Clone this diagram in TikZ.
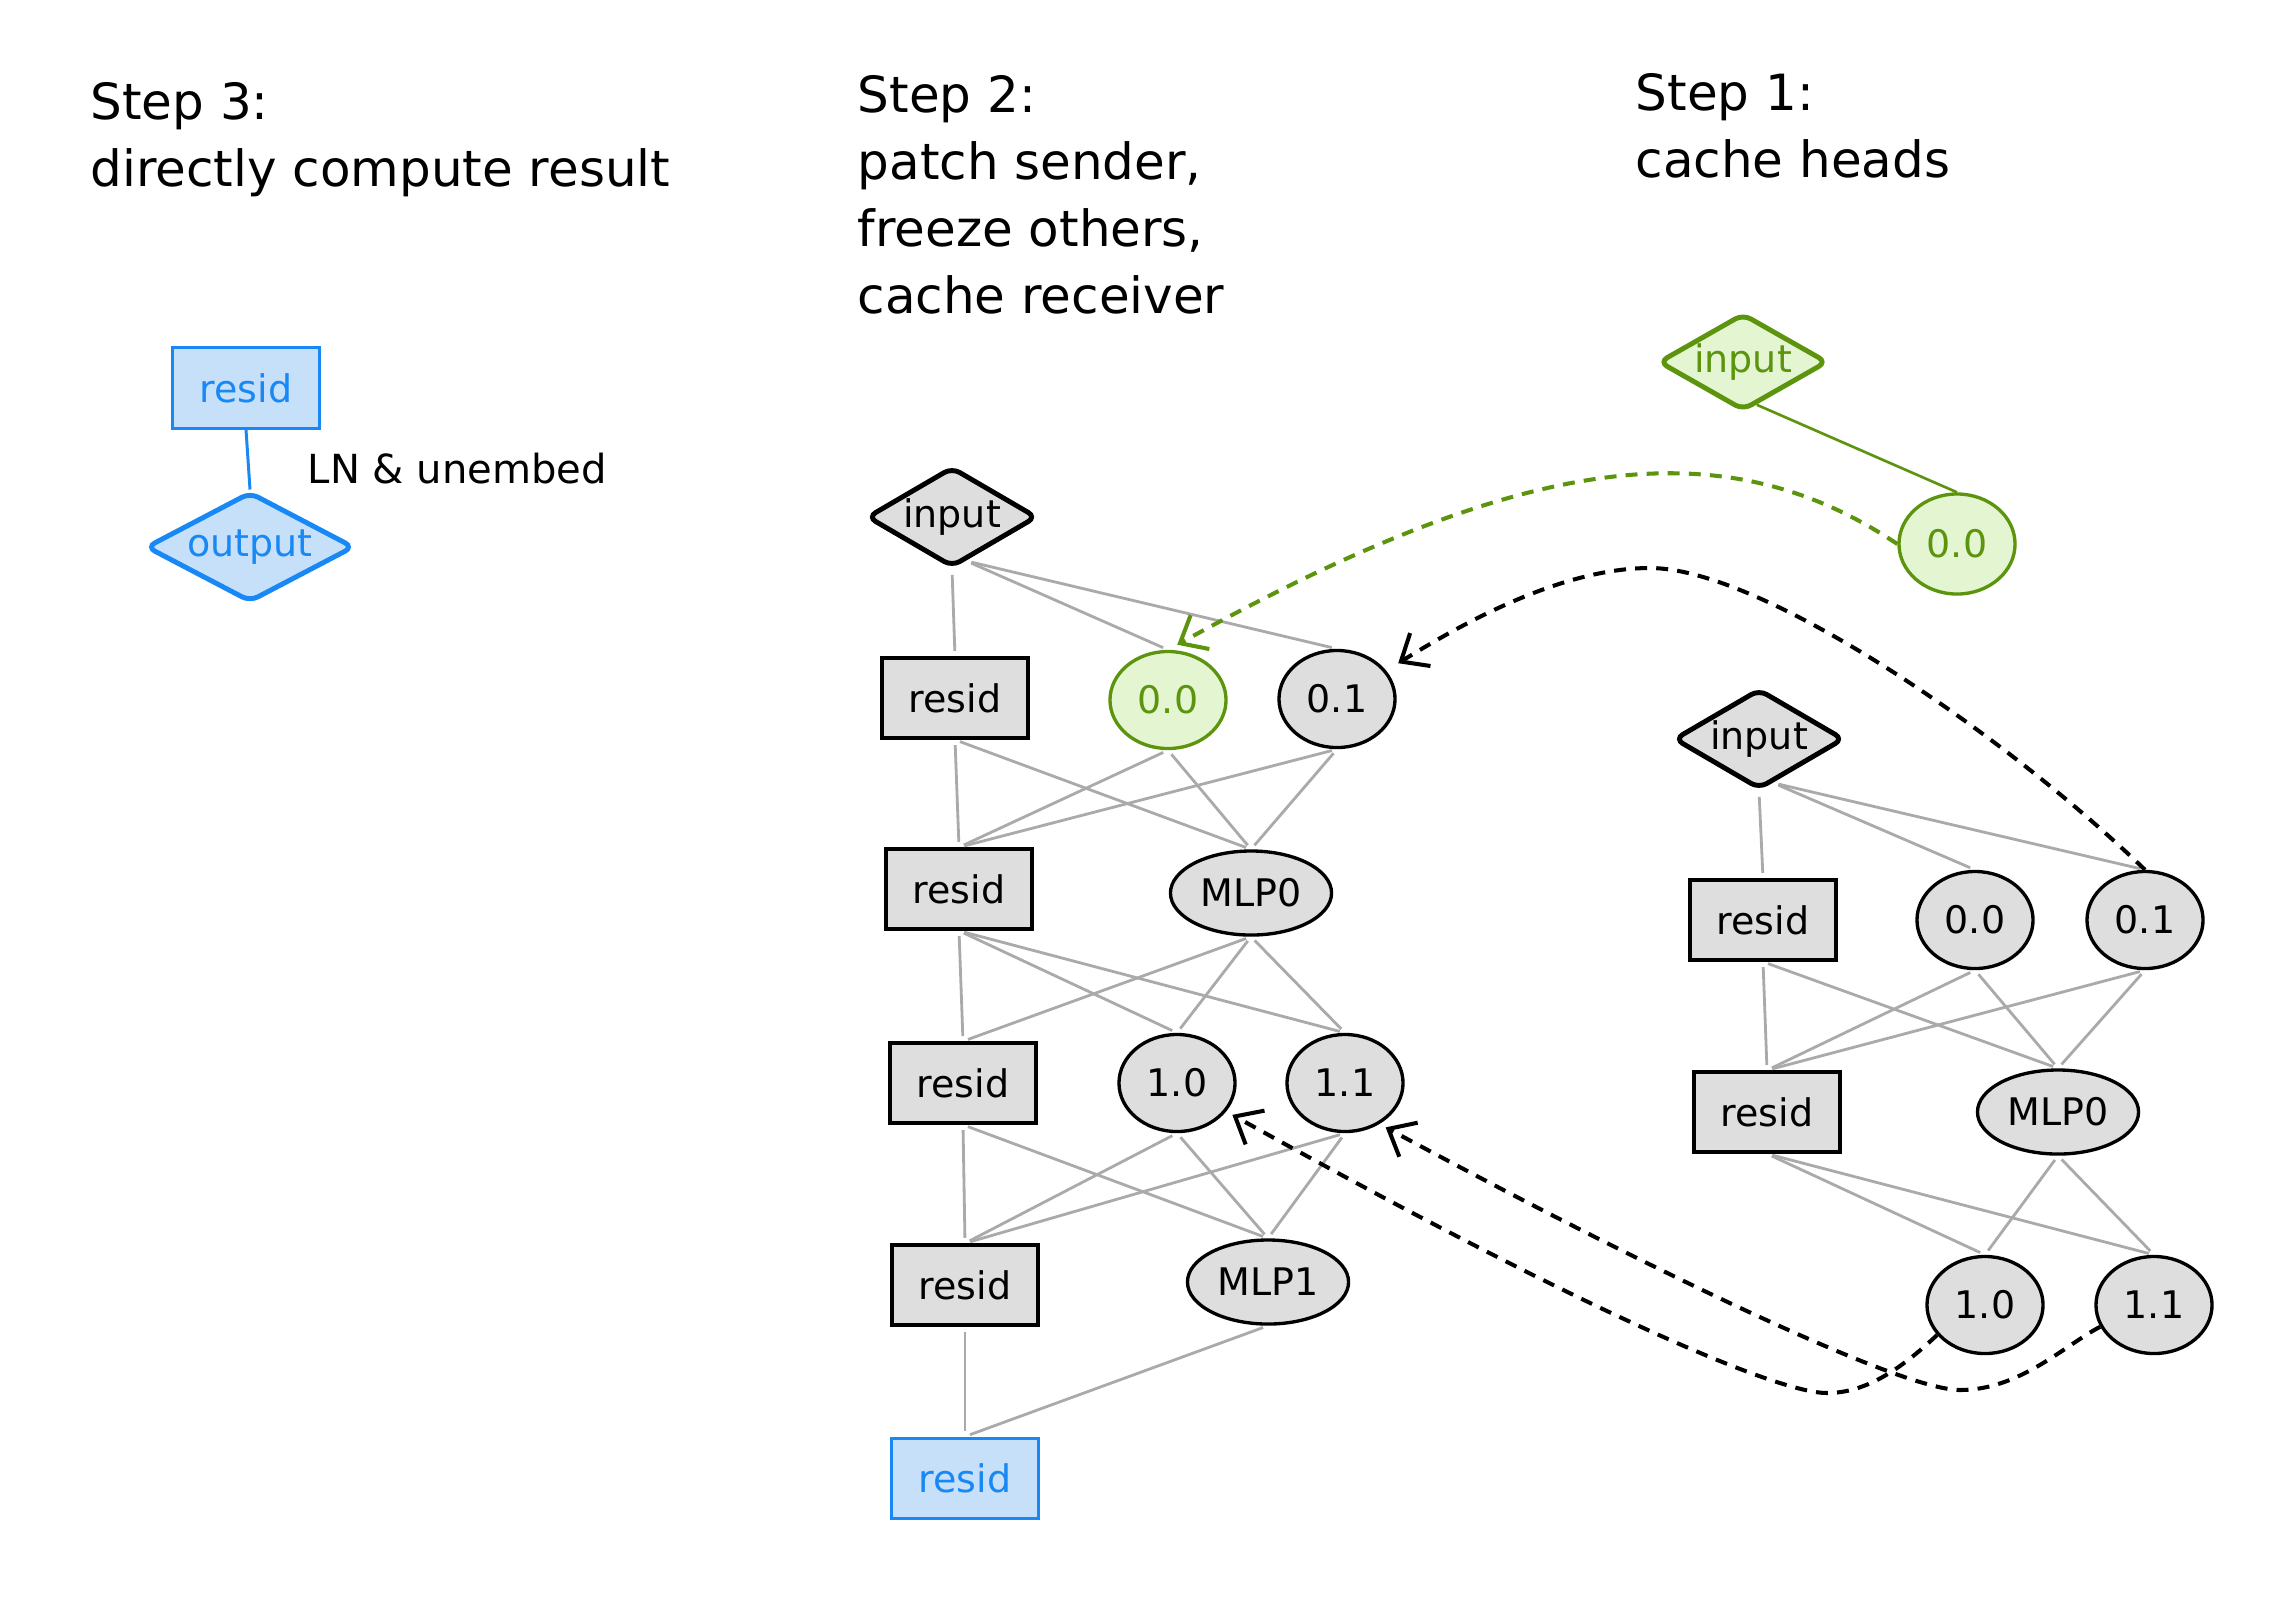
\documentclass[tikz,border=0pt]{standalone}
\usepackage{fontspec}
\setmainfont{DejaVu Sans}
\usetikzlibrary{shapes.geometric,arrows.meta}
\definecolor{nodegray}{RGB}{222,222,222}
\definecolor{lgray}{RGB}{170,170,170}
\definecolor{grn}{RGB}{92,148,13}
\definecolor{grnfill}{RGB}{228,245,210}
\definecolor{blu}{RGB}{24,136,245}
\definecolor{blufill}{RGB}{197,224,248}
\newcommand\mytitle{\fontsize{14.2pt}{17pt}\selectfont}
\newcommand\mylbl{\fontsize{10.8pt}{13pt}\selectfont}
\newcommand\myedge{\fontsize{11.4pt}{14pt}\selectfont}
\begin{document}
\begin{tikzpicture}[x=0.01cm,y=-0.01cm,
  boxn/.style={rectangle, draw=black, fill=nodegray, line width=1pt, minimum width=1.46cm, minimum height=0.8cm, inner sep=0pt, font=\mylbl},
  elln/.style={ellipse, draw=black, fill=nodegray, line width=0.95pt, minimum width=1.16cm, minimum height=0.97cm, inner sep=0pt, font=\mylbl},
  mlpn/.style={elln, minimum width=1.61cm, minimum height=0.84cm},
  dian/.style={diamond, draw=black, fill=nodegray, line width=1.4pt, rounded corners=2.5pt, aspect=1.7, minimum width=1.7cm, minimum height=1.0cm, inner sep=0pt, font=\mylbl},
  greenn/.style={draw=grn, fill=grnfill, text=grn},
  bluen/.style={draw=blu, fill=blufill, text=blu},
  conn/.style={draw=lgray, line width=0.8pt, shorten <=1.5pt, shorten >=1.5pt},
  dasharrow/.style={line width=1.15pt, dash pattern=on 3.4pt off 2.6pt, -{Straight Barb[length=6.5pt,width=11pt]}},
  ttl/.style={anchor=base west, font=\mytitle, inner sep=0pt}]
\fill[white] (0,0) rectangle (2273,1608);
\useasboundingbox (0,0) rectangle (2273,1608);

% titles
\node[ttl] (t3a) at (90,119) {Step 3:};
\node[ttl] (t3b) at (90,186) {directly compute result};
\node[ttl] (t2a) at (857,112) {Step 2:};
\node[ttl] (t2b) at (857,179) {patch sender,};
\node[ttl] (t2c) at (857,246) {freeze others,};
\node[ttl] (t2d) at (857,313) {cache receiver};
\node[ttl] (t1a) at (1635,110) {Step 1:};
\node[ttl] (t1b) at (1635,177) {cache heads};

% step 3
\node[boxn, bluen, line width=0.85pt] (s3r) at (246,388) {resid};
\node[dian, bluen, aspect=1.9, minimum width=2.08cm, minimum height=1.1cm] (s3out) at (250,547) {output};
\draw[blu, line width=0.85pt] (s3r.south) -- (s3out.north);
\node[anchor=base west, font=\myedge, inner sep=0pt] (lnlab) at (307,483) {LN \& unembed};

% step 2
\node[dian] (s2in) at (952,517) {input};
\node[boxn] (s2r1) at (955,698) {resid};
\node[elln, greenn] (s2a) at (1168,700) {0.0};
\node[elln] (s2b) at (1337,699) {0.1};
\node[boxn] (s2r2) at (959,889) {resid};
\node[mlpn] (s2m0) at (1251,893) {MLP0};
\node[boxn] (s2r3) at (963,1083) {resid};
\node[elln] (s2c) at (1177,1083) {1.0};
\node[elln] (s2d) at (1345,1083) {1.1};
\node[boxn] (s2r4) at (965,1285) {resid};
\node[mlpn] (s2m1) at (1268,1282) {MLP1};
\node[boxn, bluen, line width=0.85pt] (s2r5) at (965,1478) {resid};

\draw[conn] (s2in.south) -- (s2r1.north);
\draw[conn] (s2in.-72) -- (s2a.north);
\draw[conn] (s2in.-72) -- (s2b.north);
\foreach \a in {s2r1,s2a,s2b} \foreach \b in {s2r2,s2m0} \draw[conn] (\a.south) -- (\b.north);
\foreach \a in {s2r2,s2m0} \foreach \b in {s2r3,s2c,s2d} \draw[conn] (\a.south) -- (\b.north);
\foreach \a in {s2r3,s2c,s2d} \foreach \b in {s2r4,s2m1} \draw[conn] (\a.south) -- (\b.north);
\foreach \a in {s2r4,s2m1} \draw[conn] (\a.south) -- (s2r5.north);

% step 1
\node[dian, greenn, minimum width=1.69cm, minimum height=0.97cm] (gin) at (1743,362) {input};
\node[elln, greenn, minimum height=1.0cm] (g00) at (1957,544) {0.0};
\draw[grn, line width=0.75pt] (gin.-72) -- (g00.north);

\node[dian] (s1in) at (1759,739) {input};
\node[boxn] (s1r1) at (1763,920) {resid};
\node[elln] (s1a) at (1975,920) {0.0};
\node[elln] (s1b) at (2145,920) {0.1};
\node[boxn] (s1r2) at (1767,1112) {resid};
\node[mlpn] (s1m0) at (2058,1112) {MLP0};
\node[elln] (s1c) at (1985,1305) {1.0};
\node[elln] (s1d) at (2154,1305) {1.1};

\draw[conn] (s1in.south) -- (s1r1.north);
\draw[conn] (s1in.-72) -- (s1a.north);
\draw[conn] (s1in.-72) -- (s1b.north);
\foreach \a in {s1r1,s1a,s1b} \foreach \b in {s1r2,s1m0} \draw[conn] (\a.south) -- (\b.north);
\foreach \a in {s1r2,s1m0} \foreach \b in {s1c,s1d} \draw[conn] (\a.south) -- (\b.north);

% patching arrows
\draw[dasharrow, color=grn, shorten >=3pt] (g00.west) .. controls (1720,425) and (1520,455) .. (s2a.north);
\draw[dasharrow, shorten >=4pt] (s1b.north) .. controls (2000,730) and (1760,568) .. (1650,568) .. controls (1560,568) and (1460,625) .. (s2b.30);
\draw[dasharrow, shorten >=2pt] (s1c.212) .. controls (1900,1370) and (1865,1393) .. (1827,1393) .. controls (1780,1393) and (1600,1320) .. (s2c.-30);
\draw[dasharrow, shorten >=2pt] (s1d.202) .. controls (2065,1345) and (2020,1390) .. (1960,1390) .. controls (1900,1390) and (1650,1270) .. (s2d.-50);
\end{tikzpicture}
\end{document}
